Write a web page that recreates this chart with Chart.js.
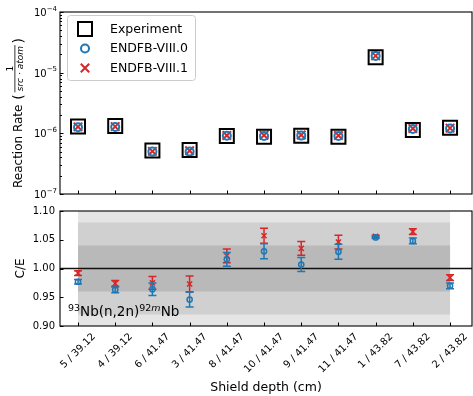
<!DOCTYPE html>
<html><head><meta charset="utf-8">
<script src="https://cdn.jsdelivr.net/npm/chart.js@4.4.0/dist/chart.umd.min.js"></script>
<style>
html,body{margin:0;padding:0;background:#fff;}
#wrap{position:relative;width:473px;height:396px;overflow:hidden;}
#c1{position:absolute;left:0;top:0;}
#c2{position:absolute;left:0;top:200px;}
</style></head><body>
<div id="wrap"><canvas id="c1" width="473" height="200"></canvas><canvas id="c2" width="473" height="196"></canvas></div>
<script>
// ---------- data ----------
const categories = ['5 / 39.12','4 / 39.12','6 / 41.47','3 / 41.47','8 / 41.47','10 / 41.47','9 / 41.47','11 / 41.47','1 / 43.82','7 / 43.82','2 / 43.82'];
const experiment = [1.29e-6,1.32e-6,5.2e-7,5.3e-7,9.0e-7,8.8e-7,9.1e-7,8.8e-7,1.79e-5,1.13e-6,1.24e-6];
const endf80 = [1.26e-6,1.27e-6,5.0e-7,5.0e-7,9.15e-7,9.06e-7,9.17e-7,9.05e-7,1.89e-5,1.18e-6,1.20e-6];
const endf81 = [1.28e-6,1.29e-6,5.05e-7,5.16e-7,9.2e-7,9.3e-7,9.4e-7,9.2e-7,1.89e-5,1.20e-6,1.22e-6];
const ce80 = [0.977,0.963,0.964,0.946,1.016,1.030,1.007,1.029,1.054,1.048,0.970];
const ce80Err = [0.004,0.005,0.011,0.013,0.012,0.013,0.012,0.013,0.002,0.005,0.005];
const ce81 = [0.992,0.974,0.975,0.973,1.022,1.057,1.035,1.046,1.056,1.064,0.984];
const ce81Err = [0.004,0.005,0.011,0.014,0.012,0.013,0.012,0.012,0.002,0.005,0.005];
const rateTicks = [1e-7,1e-6,1e-5,1e-4];
const ceTicks = [0.90,0.95,1.00,1.05,1.10];
const bandLimits = [[0.90,1.10],[0.92,1.08],[0.96,1.04]];
const bandColors = ['#e5e5e5','#d0d0d0','#b9b9b9'];
const legendLabels = ['Experiment','ENDFB-VIII.0','ENDFB-VIII.1'];

const FONT = "'DejaVu Sans', sans-serif";
Chart.defaults.font.family = FONT;
const BLUE = '#1f77b4', RED = '#d62728';
const X_MIN = -0.484, X_MAX = 10.59;

function pts(arr){ return arr.map((v,i)=>({x:i,y:v})); }

// ---------- shared plugins ----------
const framePlugin = {
  id:'frame',
  afterDraw(chart){
    const {ctx, chartArea:a, scales} = chart;
    ctx.save();
    ctx.strokeStyle = '#000'; ctx.lineWidth = 1;
    ctx.beginPath();
    for (let i=0;i<categories.length;i++){
      const x = Math.round(scales.x.getPixelForValue(i))+0.5;
      ctx.moveTo(x, a.bottom); ctx.lineTo(x, a.bottom-3.5);
    }
    ctx.stroke();
    const ys = scales.y;
    const major = chart.options.plugins.frame.major;
    ctx.beginPath();
    major.forEach(v=>{ const y = Math.round(ys.getPixelForValue(v))+0.5; ctx.moveTo(a.left,y); ctx.lineTo(a.left+3.5,y); });
    if (chart.options.plugins.frame.logMinor){
      for (let e=-7;e<-4;e++) for (let k=2;k<10;k++){
        const y = Math.round(ys.getPixelForValue(k*Math.pow(10,e)))+0.5;
        ctx.moveTo(a.left,y); ctx.lineTo(a.left+2,y);
      }
    }
    ctx.stroke();
    ctx.lineWidth = 1.1;
    ctx.strokeRect(a.left, a.top, a.right-a.left, a.bottom-a.top);
    ctx.restore();
  }
};

// ---------- top chart ----------
const topExtras = {
  id:'topExtras',
  afterDraw(chart){
    const {ctx, scales} = chart;
    ctx.save();
    ctx.fillStyle = '#000';
    rateTicks.forEach(v=>{
      const y = scales.y.getPixelForValue(v);
      const e = Math.round(Math.log10(v));
      const expStr = '\u2212' + Math.abs(e);
      ctx.font = '7px ' + FONT;
      const ew = ctx.measureText(expStr).width;
      ctx.textAlign = 'right'; ctx.textBaseline = 'alphabetic';
      ctx.fillText(expStr, 57, y - 1.5);
      ctx.font = '10px ' + FONT;
      ctx.fillText('10', 57 - ew, y + 4);
    });
    // y axis title: Reaction Rate (1 / src·atom)
    ctx.translate(22, 188);
    ctx.rotate(-Math.PI/2);
    ctx.textAlign = 'left'; ctx.textBaseline = 'alphabetic';
    ctx.font = '12px ' + FONT;
    const t1 = 'Reaction Rate';
    ctx.fillText(t1, 0, 0);
    let u = ctx.measureText(t1 + ' ').width + 1;
    ctx.font = '14px ' + FONT;
    ctx.fillText('(', u, 1);
    u += ctx.measureText('(').width + 2;
    ctx.font = 'italic 9px ' + FONT;
    const den = 'src \u00b7 atom';
    const dw = ctx.measureText(den).width;
    ctx.fillText(den, u + 1, 1.3);
    ctx.font = '9px ' + FONT;
    const nw = ctx.measureText('1').width;
    ctx.fillText('1', u + 1 + dw/2 - nw/2, -9.3);
    ctx.fillRect(u, -7.5, dw + 2, 0.8);
    u += dw + 3.5;
    ctx.font = '14px ' + FONT;
    ctx.fillText(')', u, 1);
    ctx.restore();

    // legend
    ctx.save();
    const bx = 67.5, by = 15.5, bw = 128, bh = 65, r = 3;
    ctx.beginPath();
    ctx.moveTo(bx+r,by); ctx.lineTo(bx+bw-r,by); ctx.arcTo(bx+bw,by,bx+bw,by+r,r);
    ctx.lineTo(bx+bw,by+bh-r); ctx.arcTo(bx+bw,by+bh,bx+bw-r,by+bh,r);
    ctx.lineTo(bx+r,by+bh); ctx.arcTo(bx,by+bh,bx,by+bh-r,r);
    ctx.lineTo(bx,by+r); ctx.arcTo(bx,by,bx+r,by,r); ctx.closePath();
    ctx.fillStyle = 'rgba(255,255,255,0.8)'; ctx.fill();
    ctx.strokeStyle = '#cccccc'; ctx.lineWidth = 1; ctx.stroke();
    const rows = [29, 48.5, 68];
    const mx = 85;
    ctx.strokeStyle = '#000'; ctx.lineWidth = 2;
    ctx.strokeRect(mx-7, rows[0]-7, 14, 14);
    ctx.strokeStyle = BLUE; ctx.beginPath(); ctx.arc(mx, rows[1], 4, 0, Math.PI*2); ctx.stroke();
    ctx.strokeStyle = RED; ctx.beginPath();
    ctx.moveTo(mx-4.2, rows[2]-4.2); ctx.lineTo(mx+4.2, rows[2]+4.2);
    ctx.moveTo(mx-4.2, rows[2]+4.2); ctx.lineTo(mx+4.2, rows[2]-4.2); ctx.stroke();
    ctx.fillStyle = '#000'; ctx.font = '12.5px ' + FONT; ctx.textAlign = 'left'; ctx.textBaseline = 'middle';
    legendLabels.forEach((l,i)=> ctx.fillText(l, 110, rows[i]+0.5));
    ctx.restore();
  }
};

new Chart(document.getElementById('c1'), {
  type:'scatter',
  data:{datasets:[
    {label:legendLabels[0], data:pts(experiment), pointStyle:'rect', radius:9.9, hoverRadius:9.9, borderColor:'#000', backgroundColor:'rgba(0,0,0,0)', borderWidth:2},
    {label:legendLabels[1], data:pts(endf80), pointStyle:'circle', radius:4, hoverRadius:4, borderColor:BLUE, backgroundColor:'rgba(0,0,0,0)', borderWidth:2},
    {label:legendLabels[2], data:pts(endf81), pointStyle:'crossRot', radius:6, hoverRadius:6, borderColor:RED, backgroundColor:RED, borderWidth:2}
  ]},
  options:{
    responsive:false, animation:false, events:[],
    layout:{autoPadding:false, padding:{top:12,right:1,bottom:6,left:0}},
    plugins:{legend:{display:false}, tooltip:{enabled:false}, frame:{major:rateTicks, logMinor:true}},
    scales:{
      x:{type:'linear', min:X_MIN, max:X_MAX, grid:{display:false, drawTicks:false}, border:{display:false}, ticks:{display:false}, afterFit:s=>{s.height=0;}},
      y:{type:'logarithmic', min:1e-7, max:1e-4, grid:{display:false, drawTicks:false}, border:{display:false},
         afterBuildTicks:s=>{s.ticks = rateTicks.map(v=>({value:v}));},
         ticks:{display:false}, afterFit:s=>{s.width=60;}}
    }
  },
  plugins:[framePlugin, topExtras]
});

// ---------- bottom chart ----------
const bandPlugin = {
  id:'bands',
  beforeDatasetsDraw(chart){
    const {ctx, chartArea:a, scales} = chart;
    const xl = scales.x.getPixelForValue(0), xr = scales.x.getPixelForValue(categories.length-1);
    ctx.save();
    bandLimits.forEach((b,i)=>{
      const y1 = scales.y.getPixelForValue(b[1]), y0 = scales.y.getPixelForValue(b[0]);
      ctx.fillStyle = bandColors[i];
      ctx.fillRect(xl, y1, xr-xl, y0-y1);
    });
    const y = scales.y.getPixelForValue(1.0);
    ctx.strokeStyle = '#111'; ctx.lineWidth = 1.3;
    ctx.beginPath(); ctx.moveTo(a.left, y); ctx.lineTo(a.right, y); ctx.stroke();
    ctx.restore();
  }
};
const errPlugin = {
  id:'errbars',
  beforeDatasetDraw(chart, args){
    const ds = chart.data.datasets[args.index];
    const {ctx, scales} = chart;
    ctx.save();
    ctx.strokeStyle = ds.borderColor; ctx.lineWidth = 1.5;
    ctx.beginPath();
    ds.data.forEach((p,i)=>{
      const x = scales.x.getPixelForValue(p.x);
      const yl = scales.y.getPixelForValue(p.y - ds.err[i]);
      const yh = scales.y.getPixelForValue(p.y + ds.err[i]);
      ctx.moveTo(x, yl); ctx.lineTo(x, yh);
      ctx.moveTo(x-4, yl); ctx.lineTo(x+4, yl);
      ctx.moveTo(x-4, yh); ctx.lineTo(x+4, yh);
    });
    ctx.stroke();
    ctx.restore();
  }
};
const bottomExtras = {
  id:'bottomExtras',
  afterDraw(chart){
    const {ctx, chartArea:a, scales} = chart;
    ctx.save();
    ctx.fillStyle = '#000';
    ctx.font = '10px ' + FONT; ctx.textAlign = 'right'; ctx.textBaseline = 'middle';
    ceTicks.forEach(v=> ctx.fillText(v.toFixed(2), 55, scales.y.getPixelForValue(v)));
    ctx.font = '10px ' + FONT; ctx.textAlign = 'center'; ctx.textBaseline = 'middle';
    categories.forEach((lab,i)=>{
      const x = scales.x.getPixelForValue(i);
      const w = ctx.measureText(lab).width, h = 11.6;
      const bb = (w + h) * Math.SQRT1_2;
      ctx.save();
      ctx.translate(x, a.bottom + 5 + bb/2);
      ctx.rotate(-Math.PI/4);
      ctx.fillText(lab, 0, 0);
      ctx.restore();
    });
    ctx.font = '12.5px ' + FONT; ctx.textAlign = 'center'; ctx.textBaseline = 'alphabetic';
    ctx.fillText('Shield depth (cm)', (a.left + a.right)/2, 191);
    ctx.save();
    ctx.translate(21, (a.top + a.bottom)/2);
    ctx.rotate(-Math.PI/2);
    ctx.font = '12px ' + FONT; ctx.textAlign = 'center'; ctx.textBaseline = 'middle';
    ctx.fillText('C/E', 0, 0);
    ctx.restore();
    let x = 68; const base = 116;
    ctx.textAlign = 'left'; ctx.textBaseline = 'alphabetic';
    const parts = [
      {t:'93', f:'9.5px ' + FONT, dy:-5},
      {t:'Nb(n,2n)', f:'13.5px ' + FONT, dy:0},
      {t:'92', f:'9.5px ' + FONT, dy:-5},
      {t:'m', f:'italic 9.5px ' + FONT, dy:-5},
      {t:'Nb', f:'13.5px ' + FONT, dy:0}
    ];
    parts.forEach(p=>{ ctx.font = p.f; ctx.fillText(p.t, x, base + p.dy); x += ctx.measureText(p.t).width; });
    ctx.restore();
  }
};

new Chart(document.getElementById('c2'), {
  type:'scatter',
  data:{datasets:[
    {label:legendLabels[1], data:pts(ce80), err:ce80Err, pointStyle:'circle', radius:2.6, hoverRadius:2.6, borderColor:BLUE, backgroundColor:'rgba(0,0,0,0)', borderWidth:1.5},
    {label:legendLabels[2], data:pts(ce81), err:ce81Err, pointStyle:'crossRot', radius:3.6, hoverRadius:3.6, borderColor:RED, backgroundColor:RED, borderWidth:1.5}
  ]},
  options:{
    responsive:false, animation:false, events:[],
    layout:{autoPadding:false, padding:{top:11,right:1,bottom:70,left:0}},
    plugins:{legend:{display:false}, tooltip:{enabled:false}, frame:{major:ceTicks, logMinor:false}},
    scales:{
      x:{type:'linear', min:X_MIN, max:X_MAX, grid:{display:false, drawTicks:false}, border:{display:false}, ticks:{display:false}, afterFit:s=>{s.height=0;}},
      y:{type:'linear', min:0.9, max:1.1, grid:{display:false, drawTicks:false}, border:{display:false},
         afterBuildTicks:s=>{s.ticks = ceTicks.map(v=>({value:v}));},
         ticks:{display:false}, afterFit:s=>{s.width=60;}}
    }
  },
  plugins:[bandPlugin, errPlugin, framePlugin, bottomExtras]
});
</script>
</body></html>
